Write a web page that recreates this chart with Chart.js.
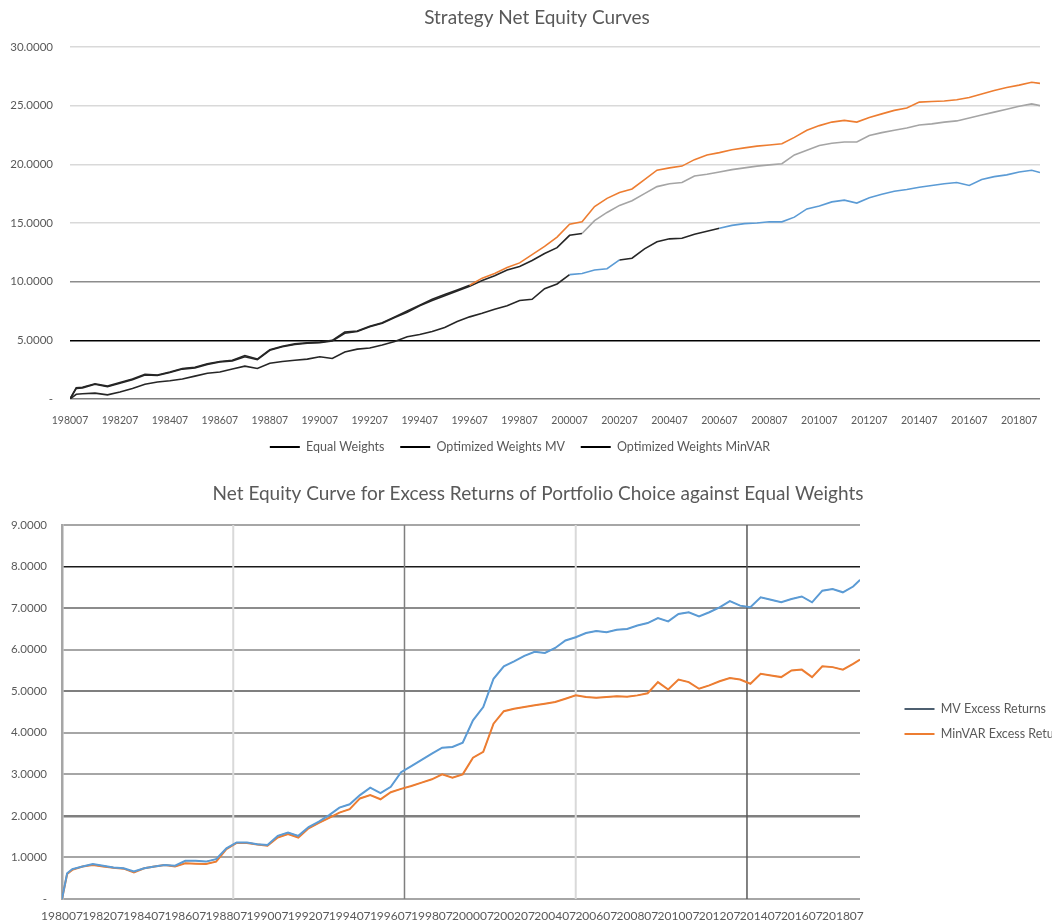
<!DOCTYPE html>
<html lang="en">
<head>
<meta charset="UTF-8" />
<title>Strategy Net Equity Curves</title>
<style>
  html, body {
    margin: 0;
    padding: 0;
    background: #fff;
    width: 1055px;
    height: 924px;
    overflow: hidden;
  }
  .box {
    position: absolute;
    left: 0;
    width: 1055px;
  }
  #top { top: 0; height: 478px; }
  #bottom { top: 470px; height: 454px; }
</style>
</head>
<body>
<div class="box" id="top"><canvas id="equity"></canvas></div>
<div class="box" id="bottom"><canvas id="excess"></canvas></div>

<script src="https://cdn.jsdelivr.net/npm/chart.js@4.4.0/dist/chart.umd.min.js"></script>
<script>
// month stamps (yyyymm) the curves were read at
const PERIODS = [
  "198007","198010","198101","198107","198201","198207","198301","198307","198401","198407",
  "198501","198507","198601","198607","198701","198707","198801","198807","198901","198907",
  "199001","199007","199101","199107","199201","199207","199301","199307","199401","199407",
  "199501","199507","199601","199607","199701","199707","199801","199807","199901","199907",
  "200001","200007","200101","200107","200201","200207","200301","200307","200401","200407",
  "200501","200507","200601","200607","200701","200707","200801","200807","200901","200907",
  "201001","201007","201101","201107","201201","201207","201301","201307","201401","201407",
  "201501","201507","201601","201607","201701","201707","201801","201807","201901","201905",
];

// top chart: net equity
const EQUAL_WEIGHTS = [
  0, 0.40, 0.45, 0.50, 0.35, 0.60, 0.90, 1.25, 1.45, 1.55,
  1.70, 1.95, 2.20, 2.30, 2.55, 2.80, 2.60, 3.05, 3.20, 3.30,
  3.40, 3.60, 3.45, 4.00, 4.25, 4.35, 4.60, 4.90, 5.30, 5.50,
  5.75, 6.10, 6.60, 7.00, 7.30, 7.65, 7.95, 8.40, 8.50, 9.40,
  9.80, 10.60, 10.70, 11.00, 11.10, 11.85, 12.00, 12.80, 13.40, 13.65,
  13.70, 14.05, 14.30, 14.55, 14.80, 14.95, 15.00, 15.10, 15.10, 15.50,
  16.20, 16.45, 16.80, 16.95, 16.70, 17.15, 17.45, 17.70, 17.85, 18.05,
  18.20, 18.35, 18.45, 18.20, 18.70, 18.95, 19.10, 19.35, 19.50, 19.30,
];
const MV_WEIGHTS = [
  0, 0.95, 1.00, 1.30, 1.10, 1.40, 1.70, 2.10, 2.05, 2.30,
  2.60, 2.70, 3.00, 3.20, 3.30, 3.70, 3.40, 4.20, 4.50, 4.70,
  4.80, 4.85, 5.00, 5.70, 5.80, 6.20, 6.50, 7.00, 7.50, 8.00,
  8.50, 8.90, 9.30, 9.70, 10.30, 10.70, 11.20, 11.60, 12.30, 13.00,
  13.80, 14.90, 15.10, 16.40, 17.10, 17.60, 17.90, 18.70, 19.50, 19.70,
  19.85, 20.40, 20.80, 21.00, 21.25, 21.40, 21.55, 21.65, 21.75, 22.30,
  22.90, 23.30, 23.60, 23.75, 23.60, 24.00, 24.30, 24.60, 24.80, 25.30,
  25.35, 25.40, 25.50, 25.70, 26.00, 26.30, 26.55, 26.75, 27.00, 26.90,
];
const MINVAR_WEIGHTS = [
  0, 0.90, 0.95, 1.25, 1.05, 1.35, 1.65, 2.05, 2.00, 2.25,
  2.55, 2.65, 2.95, 3.15, 3.25, 3.60, 3.35, 4.15, 4.45, 4.65,
  4.75, 4.80, 4.95, 5.60, 5.75, 6.15, 6.45, 6.95, 7.40, 7.95,
  8.40, 8.80, 9.20, 9.60, 10.10, 10.50, 11.00, 11.30, 11.80, 12.40,
  12.90, 13.95, 14.10, 15.20, 15.90, 16.50, 16.90, 17.50, 18.10, 18.35,
  18.45, 19.00, 19.15, 19.35, 19.55, 19.70, 19.85, 19.95, 20.05, 20.80,
  21.20, 21.60, 21.80, 21.90, 21.90, 22.45, 22.70, 22.90, 23.10, 23.35,
  23.45, 23.60, 23.70, 23.95, 24.20, 24.45, 24.70, 24.95, 25.15, 25.00,
];

// bottom chart: excess over equal weights
const MV_EXCESS = [
  0, 0.62, 0.72, 0.78, 0.84, 0.80, 0.76, 0.74, 0.66, 0.74,
  0.78, 0.82, 0.80, 0.92, 0.92, 0.90, 0.96, 1.22, 1.36, 1.36,
  1.32, 1.30, 1.52, 1.60, 1.52, 1.73, 1.86, 2.02, 2.20, 2.28,
  2.50, 2.68, 2.55, 2.70, 3.05, 3.20, 3.35, 3.50, 3.64, 3.66,
  3.76, 4.30, 4.62, 5.30, 5.60, 5.72, 5.85, 5.95, 5.92, 6.04,
  6.22, 6.30, 6.40, 6.45, 6.42, 6.48, 6.50, 6.58, 6.64, 6.76,
  6.68, 6.86, 6.90, 6.80, 6.90, 7.02, 7.17, 7.06, 7.02, 7.26,
  7.20, 7.14, 7.22, 7.28, 7.14, 7.42, 7.46, 7.38, 7.52, 7.68,
];
const MINVAR_EXCESS = [
  0, 0.60, 0.70, 0.78, 0.82, 0.78, 0.75, 0.73, 0.64, 0.74,
  0.78, 0.82, 0.78, 0.86, 0.85, 0.84, 0.90, 1.20, 1.35, 1.35,
  1.31, 1.28, 1.48, 1.56, 1.48, 1.70, 1.83, 1.95, 2.08, 2.16,
  2.42, 2.50, 2.40, 2.57, 2.65, 2.72, 2.80, 2.88, 3.00, 2.92,
  3.00, 3.40, 3.54, 4.22, 4.52, 4.58, 4.62, 4.66, 4.70, 4.74,
  4.82, 4.90, 4.86, 4.84, 4.86, 4.88, 4.87, 4.90, 4.95, 5.22,
  5.04, 5.28, 5.22, 5.06, 5.14, 5.24, 5.32, 5.28, 5.18, 5.42,
  5.38, 5.34, 5.50, 5.52, 5.34, 5.60, 5.58, 5.52, 5.66, 5.76,
];

const TICK_STEP = 24;                    // months between axis labels
const EXCESS_GRID = [100, 200, 300, 400]; // excel category gridlines (month number)

const FIRST = PERIODS[0];
const monthIndex = (p) => (+p.slice(0, 4) - +FIRST.slice(0, 4)) * 12 + (+p.slice(4) - +FIRST.slice(4));
const periodLabel = (i) => {
  const total = +FIRST.slice(0, 4) * 12 + (+FIRST.slice(4) - 1) + i;
  return String(Math.floor(total / 12)) + String((total % 12) + 1).padStart(2, "0");
};
const points = (values) => PERIODS.map((p, i) => ({ x: monthIndex(p), y: values[i] }));
const LAST = monthIndex(PERIODS[PERIODS.length - 1]);

// the screenshot shows parts of the curves drawn in near black
const darkIn = (color, ranges) => (ctx) => {
  const m = ctx.p0.parsed.x;
  return ranges.some(([a, b]) => m >= a && m < b) ? "#262626" : color;
};

// nudge title / legend boxes after layout (excel places them off-centre)
const nudge = (title, legend) => ({
  id: "nudge",
  afterLayout(chart) {
    const t = chart.titleBlock;
    t.left += title; t.right += title;
    if (legend) {
      const lg = chart.legend;
      lg.left += legend[0]; lg.right += legend[0];
      lg.top += legend[1]; lg.bottom += legend[1];
    }
  },
});

Chart.defaults.font.family = "Lato, 'Open Sans', sans-serif";
Chart.defaults.color = "#595959";
Chart.defaults.animation = false;

const xAxis = (size, pad, height) => ({
  type: "linear",
  min: 0,
  max: LAST,
  grid: { display: false },
  border: { display: false },
  afterFit: (s) => { s.height = height; },
  ticks: {
    stepSize: TICK_STEP,
    includeBounds: false,
    autoSkip: false,
    maxRotation: 0,
    minRotation: 0,
    padding: pad,
    font: { size },
    color: "#595959",
    callback: (v) => periodLabel(v),
  },
});

const yLabel = (v) => (v === 0 ? "-" : v.toFixed(4));

// ---------- top chart ----------
const EQ_GRID = { 0: "#7f7f7f", 5: "#000000", 10: "#8c8c8c" };

new Chart(document.getElementById("equity"), {
  type: "line",
  data: {
    datasets: [
      {
        label: "Equal Weights",
        data: points(EQUAL_WEIGHTS),
        borderColor: "#5b9bd5",
        segment: { borderColor: darkIn("#5b9bd5", [[0, 236], [262, 308]]) },
      },
      {
        label: "Optimized Weights MV",
        data: points(MV_WEIGHTS),
        borderColor: "#ed7d31",
        segment: { borderColor: darkIn("#ed7d31", [[0, 192]]) },
      },
      {
        label: "Optimized Weights MinVAR",
        data: points(MINVAR_WEIGHTS),
        borderColor: "#a5a5a5",
        segment: { borderColor: darkIn("#a5a5a5", [[0, 246]]) },
      },
    ],
  },
  plugins: [nudge(17)],
  options: {
    responsive: true,
    maintainAspectRatio: false,
    layout: { padding: { top: 0, right: 15, bottom: 14.75, left: 0 } },
    elements: { point: { radius: 0 }, line: { borderWidth: 1.6, tension: 0 } },
    plugins: {
      tooltip: { enabled: false },
      title: {
        display: true,
        text: "Strategy Net Equity Curves",
        color: "#595959",
        font: { size: 19, weight: "normal" },
        padding: { top: 6.6, bottom: 17.6 },
      },
      legend: {
        position: "bottom",
        labels: {
          boxWidth: 30,
          boxHeight: 2,
          padding: 15.75,
          color: "#595959",
          font: { size: 12.5 },
          generateLabels: (chart) =>
            Chart.defaults.plugins.legend.labels.generateLabels(chart).map((item) => ({
              ...item, fillStyle: "#000", strokeStyle: "#000", lineWidth: 0,
            })),
        },
      },
    },
    scales: {
      x: xAxis(10.5, 7.5, 26),
      y: {
        min: 0,
        max: 30,
        afterFit: (s) => { s.width = 70; },
        border: { display: false },
        grid: {
          drawTicks: false,
          lineWidth: 1.5,
          color: (c) => EQ_GRID[c.tick.value] || "#d9d9d9",
        },
        ticks: { stepSize: 5, padding: 17, font: { size: 11.5 }, callback: yLabel },
      },
    },
  },
});

// ---------- bottom chart ----------
const EX_GRID = { 8: ["#1a1a1a", 1.5], 7: ["#8c8c8c", 2], 5: ["#7f7f7f", 2], 2: ["#7f7f7f", 2.5] };

const excessGrid = {
  id: "excessGrid",
  beforeDatasetsDraw(chart) {
    const { ctx, chartArea, scales: { x } } = chart;
    ctx.save();
    EXCESS_GRID.forEach((m, i) => {
      const px = x.getPixelForValue(m);
      ctx.strokeStyle = i % 2 ? (i === 3 ? "#595959" : "#7f7f7f") : "#d9d9d9";
      ctx.lineWidth = i % 2 ? 1.5 : 2;
      ctx.beginPath();
      ctx.moveTo(px, chartArea.top);
      ctx.lineTo(px, chartArea.bottom);
      ctx.stroke();
    });
    ctx.restore();
  },
};

new Chart(document.getElementById("excess"), {
  type: "line",
  data: {
    datasets: [
      { label: "MV Excess Returns", data: points(MV_EXCESS), borderColor: "#5b9bd5", borderWidth: 2 },
      { label: "MinVAR Excess Returns", data: points(MINVAR_EXCESS), borderColor: "#ed7d31", borderWidth: 2 },
      { label: "", data: points(MV_EXCESS), borderColor: "rgba(20,20,20,0.5)", borderWidth: 0.9 },
      { label: "", data: points(MINVAR_EXCESS), borderColor: "rgba(20,20,20,0.5)", borderWidth: 0.9 },
    ],
  },
  plugins: [excessGrid, nudge(28, [32, 24.5])],
  options: {
    responsive: true,
    maintainAspectRatio: false,
    layout: { padding: { top: 0, right: 35, bottom: 0, left: 0 } },
    elements: { point: { radius: 0 }, line: { tension: 0 } },
    plugins: {
      tooltip: { enabled: false },
      title: {
        display: true,
        text: "Net Equity Curve for Excess Returns of Portfolio Choice against Equal Weights",
        color: "#595959",
        font: { size: 19, weight: "normal" },
        padding: { top: 12.6, bottom: 19.6 },
      },
      legend: {
        position: "right",
        maxWidth: 160,
        labels: {
          boxWidth: 30,
          boxHeight: 2,
          padding: 12.5,
          color: "#595959",
          font: { size: 12.5 },
          filter: (item) => item.datasetIndex < 2,
          generateLabels: (chart) =>
            Chart.defaults.plugins.legend.labels.generateLabels(chart).map((item, i) => ({
              ...item, fillStyle: i === 0 ? "#4d5f70" : "#ed7d31", lineWidth: 0,
            })),
        },
      },
    },
    scales: {
      x: xAxis(12, 2, 25),
      y: {
        min: 0,
        max: 9,
        afterFit: (s) => { s.width = 62; },
        border: { display: true, color: "#a6a6a6", width: 2.5 },
        grid: {
          drawTicks: false,
          color: (c) => (EX_GRID[c.tick.value] || ["#a6a6a6"])[0],
          lineWidth: (c) => (EX_GRID[c.tick.value] || [0, 2])[1],
        },
        ticks: { stepSize: 1, padding: 15, font: { size: 11.5 }, callback: yLabel },
      },
    },
  },
});
</script>
</body>
</html>
